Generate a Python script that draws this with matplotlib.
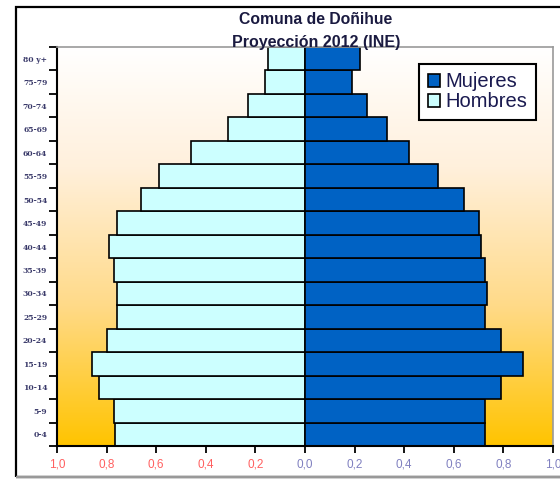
import numpy as np
import matplotlib
matplotlib.use("Agg")
import matplotlib.pyplot as plt
from matplotlib.colors import LinearSegmentedColormap
from matplotlib.patches import Rectangle, Patch

# Age groups, youngest first (bottom of the pyramid)
age_groups = ["0-4", "5-9", "10-14", "15-19", "20-24", "25-29", "30-34", "35-39",
              "40-44", "45-49", "50-54", "55-59", "60-64", "65-69", "70-74", "75-79", "80 y+"]
hombres = [0.765, 0.77, 0.83, 0.86, 0.80, 0.76, 0.76, 0.77,
           0.79, 0.76, 0.66, 0.59, 0.46, 0.31, 0.23, 0.16, 0.15]
mujeres = [0.725, 0.725, 0.79, 0.88, 0.79, 0.725, 0.735, 0.725,
           0.71, 0.70, 0.64, 0.535, 0.42, 0.33, 0.25, 0.19, 0.22]
x_ticks = [-1.0, -0.8, -0.6, -0.4, -0.2, 0.0, 0.2, 0.4, 0.6, 0.8, 1.0]
x_tick_labels = ["1,0", "0,8", "0,6", "0,4", "0,2", "0,0", "0,2", "0,4", "0,6", "0,8", "1,0"]

W, H = 560, 479
fig = plt.figure(figsize=(W / 100, H / 100), dpi=100)
fig.patch.set_facecolor("white")

# outer frame
fig.patches.append(Rectangle((16 / W, 2 / H), 1.2, 1 - 8.5 / H, transform=fig.transFigure,
                             fill=False, edgecolor="black", lw=1.6, zorder=0))
fig.patches.append(Rectangle((16 / W, 2 / H), 1.2, 0, transform=fig.transFigure,
                             fill=False, edgecolor="#999999", lw=1.6, zorder=1))

ax = fig.add_axes([57 / W, 1 - 446 / H, (553 - 57) / W, (446 - 47) / H])

# plot-area gradient: white at top to gold at bottom
cmap = LinearSegmentedColormap.from_list(
    "bg", [(0.0, "#FFC400"), (0.35, "#FFDA88"), (0.7, "#FFF0DC"), (1.0, "#FFFFFF")])
grad = np.linspace(0, 1, 256).reshape(-1, 1)
ax.imshow(grad, cmap=cmap, aspect="auto", origin="lower",
          extent=[-1, 1, -0.5, len(age_groups) - 0.5], zorder=0)

y = np.arange(len(age_groups))
ax.barh(y, [-v for v in hombres], height=1.0, color="#CCFFFF", edgecolor="black",
        linewidth=1.2, zorder=2, label="Hombres")
ax.barh(y, mujeres, height=1.0, color="#0062C4", edgecolor="black",
        linewidth=1.2, zorder=2, label="Mujeres")

ax.set_xlim(-1, 1)
ax.set_ylim(-0.5, len(age_groups) - 0.5)

ax.set_xticks(x_ticks)
ax.set_xticklabels(x_tick_labels, fontsize=8.5, family="Liberation Sans")
for lbl, v in zip(ax.get_xticklabels(), x_ticks):
    lbl.set_color("#FF6060" if v < 0 else "#8080C0")
ax.tick_params(axis="x", direction="out", length=5, width=1.3, pad=4)

ax.set_yticks(np.arange(-0.5, len(age_groups), 1.0))
ax.set_yticklabels([])
ax.set_yticks(y, minor=True)
ax.set_yticklabels(age_groups, minor=True, fontsize=5.5, family="DejaVu Serif",
                   fontweight="bold", color="#3a3a6a")
ax.tick_params(axis="y", which="major", direction="out", length=6, width=1.3)
ax.tick_params(axis="y", which="minor", length=0, pad=7)

for s in ("left", "bottom"):
    ax.spines[s].set_color("black")
    ax.spines[s].set_linewidth(1.5)
for s in ("top", "right"):
    ax.spines[s].set_color("#999999")
    ax.spines[s].set_linewidth(1.2)

handles = [Patch(facecolor="#0062C4", edgecolor="black", lw=1.2),
           Patch(facecolor="#CCFFFF", edgecolor="black", lw=1.2)]
leg = ax.legend(handles, ["Mujeres", "Hombres"], loc="upper right",
                bbox_to_anchor=(536 / W, 1 - 64 / H), bbox_transform=fig.transFigure,
                fancybox=False, framealpha=1, edgecolor="black",
                prop={"family": "Liberation Sans", "size": 14.5},
                handlelength=0.6, handleheight=0.6, handletextpad=0.3,
                borderpad=0.38, borderaxespad=0, labelspacing=0.05)
leg._legend_box.sep = 0
leg.get_frame().set_linewidth(1.5)
for t in leg.get_texts():
    t.set_color("#1a1a50")
# a little extra horizontal room inside the legend box
leg._legend_box.pad = 6

fig.text(316 / W, 1 - 20 / H, "Comuna de Doñihue", ha="center", va="center",
         fontsize=11.3, fontweight="bold", family="Liberation Sans", color="#1a1a40")
fig.text(316 / W, 1 - 42 / H, "Proyección 2012 (INE)", ha="center", va="center",
         fontsize=11.5, fontweight="bold", family="Liberation Sans", color="#1a1a40", zorder=5)

fig.savefig("out.png", dpi=100)
